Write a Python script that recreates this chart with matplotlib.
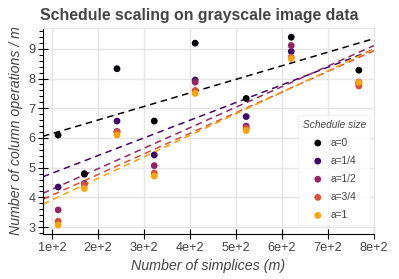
import numpy as np
import matplotlib
matplotlib.use('Agg')
import matplotlib.pyplot as plt
from matplotlib.ticker import MultipleLocator, FuncFormatter

# data
simplices = [113, 170, 241, 322, 411, 522, 620, 767]
sizes = ['a=0', 'a=1/4', 'a=1/2', 'a=3/4', 'a=1']
ops = {
  'a=0':   [6.10, 4.80, 8.33, 6.57, 9.19, 7.33, 9.39, 8.28],
  'a=1/4': [4.35, 4.78, 6.57, 5.43, 7.95, 6.72, 8.91, 7.88],
  'a=1/2': [3.58, 4.47, 6.22, 5.07, 7.88, 6.40, 9.11, 7.82],
  'a=3/4': [3.20, 4.42, 6.20, 4.82, 7.60, 6.33, 8.72, 7.75],
  'a=1':   [3.07, 4.30, 6.10, 4.72, 7.50, 6.25, 8.67, 7.87],
}
colors = ['#000003', '#410967', '#932567', '#DC5039', '#FBA40A']

TXT = '#444444'
GRID = '#e5e5e5'
W, H = 399, 279

plt.rcParams['font.family'] = ['Liberation Sans', 'DejaVu Sans']

fig = plt.figure(figsize=(W / 100, H / 100), dpi=100)
ax = fig.add_axes([43 / W, 1 - 234 / H, (374 - 43) / W, (234 - 28) / H])

xlim = (80, 800)
x = np.array(simplices, dtype=float)
xs = np.array(xlim, dtype=float)

for name, c in zip(sizes, colors):
  y = np.array(ops[name])
  z = 5 if name == 'a=0' else 3
  ax.scatter(x, y, s=24, color=c, edgecolors='none', zorder=z, label=name)
  # least squares trend line over the whole x range
  k, b = np.polyfit(x, y, 1)
  ax.plot(xs, k * xs + b, color=c, lw=1.1, dashes=(4.3, 3.0), zorder=2)

ax.set_xlim(*xlim)
ax.set_ylim(2.77, 9.7)

ax.xaxis.set_major_locator(MultipleLocator(100))
ax.xaxis.set_major_formatter(FuncFormatter(lambda v, p: '%de+2' % round(v / 100)))
ax.yaxis.set_major_locator(MultipleLocator(1))
ax.yaxis.set_minor_locator(MultipleLocator(0.2))

ax.grid(True, which='major', color=GRID, lw=1, zorder=0)
ax.set_axisbelow(True)

for s in ['top', 'right']:
  ax.spines[s].set_color(GRID)
for s in ['left', 'bottom']:
  ax.spines[s].set_color('black')
  ax.spines[s].set_linewidth(0.8)

ax.tick_params(axis='both', which='major', direction='inout', length=7, width=0.8,
               labelsize=9.2, labelcolor=TXT, pad=2)
ax.tick_params(axis='y', which='minor', direction='out', length=3, width=0.8)

ax.set_xlabel('Number of simplices (m)', fontsize=10.3, style='italic', color=TXT, labelpad=4)
ax.set_ylabel('Number of column operations / m', fontsize=10.2, style='italic', color=TXT, labelpad=4)
fig.text(0.5, 1 - 20 / H, 'Schedule scaling on grayscale image data', ha='center', va='baseline',
         fontsize=11.4, fontweight='bold', color=TXT)

leg = ax.legend(title='Schedule size', loc='upper left', bbox_to_anchor=(298 / W, 1 - 115 / H),
                bbox_transform=fig.transFigure, borderaxespad=0,
                fontsize=7.3, title_fontsize=7.3, frameon=True, fancybox=False,
                borderpad=0.45, labelspacing=0.8, handlelength=1.2, handletextpad=0.7)
leg.get_frame().set_edgecolor('#f0f0f0')
leg.get_frame().set_linewidth(0.8)
leg.get_title().set_style('italic')
leg.get_title().set_color(TXT)
for t in leg.get_texts():
  t.set_color(TXT)

fig.savefig('out.png', dpi=100)
